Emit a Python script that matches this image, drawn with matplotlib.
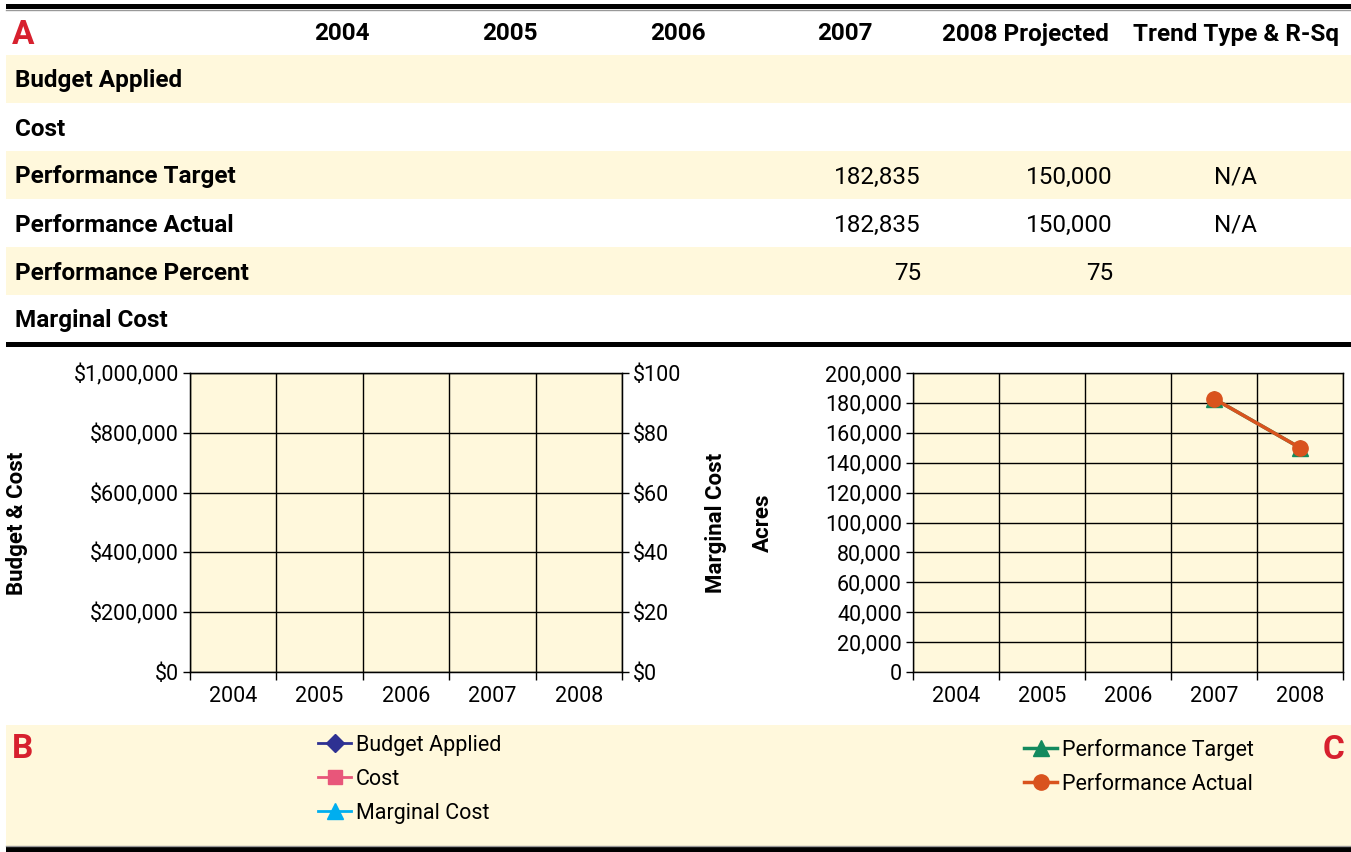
import numpy as np
import matplotlib
matplotlib.use("Agg")
import matplotlib.pyplot as plt
from matplotlib.patches import Rectangle
from matplotlib.ticker import FuncFormatter, MultipleLocator, FixedLocator

plt.rcParams['font.family'] = ['Roboto', 'DejaVu Sans']

# table data
col_heads = ['2004', '2005', '2006', '2007', '2008 Projected', 'Trend Type & R-Sq']
row_heads = ['Budget Applied', 'Cost', 'Performance Target', 'Performance Actual',
             'Performance Percent', 'Marginal Cost']
row_2007 = ['', '', '182,835', '182,835', '75', '']
row_2008 = ['', '', '150,000', '150,000', '75', '']
row_trend = ['', '', 'N/A', 'N/A', '', '']

# chart data
years = ['2004', '2005', '2006', '2007', '2008']
budget_applied = [np.nan, np.nan, np.nan, np.nan, np.nan]
cost = [np.nan, np.nan, np.nan, np.nan, np.nan]
marginal_cost = [np.nan, np.nan, np.nan, np.nan, np.nan]
perf_target = [np.nan, np.nan, np.nan, 182835, 150000]
perf_actual = [np.nan, np.nan, np.nan, 182835, 150000]

W, H = 1351, 852
CREAM = '#fff8dc'
RED = '#d7202e'
TXT = 17.5   # table text size
TICK = 15.5  # chart tick label size

fig = plt.figure(figsize=(W / 100, H / 100), dpi=100)
fig.patch.set_facecolor('white')

# background layer in pixel coordinates
bg = fig.add_axes([0, 0, 1, 1], zorder=0)
bg.set_xlim(0, W)
bg.set_ylim(H, 0)
bg.axis('off')


def px_axes(x0, y0, x1, y1, **kw):
    return fig.add_axes([x0 / W, 1 - y1 / H, (x1 - x0) / W, (y1 - y0) / H], **kw)


# horizontal rules
bg.add_patch(Rectangle((6, 4), W - 6, 5, color='black', lw=0))
bg.plot([6, W], [9.5, 9.5], color='#999999', lw=1)
bg.add_patch(Rectangle((6, 342), W - 6, 5, color='black', lw=0))
bg.add_patch(Rectangle((6, 847), W - 6, 6, color='black', lw=0))
bg.plot([6, W], [846, 846], color='#999999', lw=1)

# table section
bg.text(12, 35, 'A', color=RED, fontsize=24, fontweight='bold', va='center', ha='left')
col_x = [342, 510, 678, 845, 1025, 1236]
for x, t in zip(col_x, col_heads):
    bg.text(x, 34, t, fontsize=TXT, fontweight='bold', va='center', ha='center')

row_top = 55
row_h = 48
for i, name in enumerate(row_heads):
    y0 = row_top + i * row_h
    if i % 2 == 0:
        bg.add_patch(Rectangle((6, y0), W - 6, row_h, color=CREAM, lw=0))
    yc = y0 + row_h / 2 + 2
    bg.text(15, yc, name, fontsize=TXT, fontweight='bold', va='center', ha='left')
    bg.text(921, yc, row_2007[i], fontsize=TXT, va='center', ha='right')
    bg.text(1113, yc, row_2008[i], fontsize=TXT, va='center', ha='right')
    bg.text(1236, yc, row_trend[i], fontsize=TXT, va='center', ha='center')

# legend band
bg.add_patch(Rectangle((6, 725), W - 6, 121, color=CREAM, lw=0))
bg.text(12, 749, 'B', color=RED, fontsize=24, fontweight='bold', va='center', ha='left')
bg.text(1344, 750, 'C', color=RED, fontsize=24, fontweight='bold', va='center', ha='right')

# axis titles
bg.text(17, 523, 'Budget & Cost', rotation=90, fontsize=16, fontweight='bold',
        va='center', ha='center')
bg.text(716, 523, 'Marginal Cost', rotation=90, fontsize=16, fontweight='bold',
        va='center', ha='center')
bg.text(763, 523, 'Acres', rotation=90, fontsize=16, fontweight='bold',
        va='center', ha='center')

x = np.arange(len(years))


def style_axes(ax):
    ax.set_facecolor(CREAM)
    ax.set_xlim(-0.5, len(years) - 0.5)
    ax.xaxis.set_major_locator(FixedLocator(x))
    ax.set_xticklabels(years, fontsize=TICK)
    ax.xaxis.set_minor_locator(FixedLocator(np.arange(-0.5, len(years), 1.0)))
    ax.tick_params(axis='x', which='major', length=0, pad=10)
    ax.tick_params(axis='x', which='minor', length=6, width=1, color='black')
    ax.tick_params(axis='y', length=5, width=1, labelsize=TICK, pad=3)
    ax.grid(True, axis='y', which='major', color='black', lw=1)
    ax.grid(True, axis='x', which='minor', color='black', lw=1)
    ax.set_axisbelow(True)
    for s in ax.spines.values():
        s.set_color('black')
        s.set_linewidth(1)


# left chart: budget & cost, marginal cost on a second axis
ax1 = px_axes(190, 373, 622, 672, zorder=2)
style_axes(ax1)
ax1.set_ylim(0, 1000000)
ax1.yaxis.set_major_locator(MultipleLocator(200000))
ax1.yaxis.set_major_formatter(FuncFormatter(lambda v, p: '${:,.0f}'.format(v)))
h1, = ax1.plot(x, budget_applied, color='#2e3192', marker='D', ms=9, lw=2,
               label='Budget Applied')
h2, = ax1.plot(x, cost, color='#e8567a', marker='s', ms=10, lw=2, label='Cost')
ax1b = ax1.twinx()
ax1b.set_ylim(0, 100)
ax1b.yaxis.set_major_locator(MultipleLocator(20))
ax1b.yaxis.set_major_formatter(FuncFormatter(lambda v, p: '${:,.0f}'.format(v)))
ax1b.tick_params(axis='y', length=5, width=1, labelsize=TICK, pad=3)
h3, = ax1b.plot(x, marginal_cost, color='#00aeef', marker='^', ms=11, lw=2,
                label='Marginal Cost')

# right chart: performance acres
ax2 = px_axes(913, 373, 1343, 672, zorder=2)
style_axes(ax2)
ax2.set_ylim(0, 200000)
ax2.yaxis.set_major_locator(MultipleLocator(20000))
ax2.yaxis.set_major_formatter(FuncFormatter(lambda v, p: '{:,.0f}'.format(v)))
g1, = ax2.plot(x, perf_target, color='#138a5e', marker='^', ms=12, lw=2.5,
               label='Performance Target', clip_on=False)
g2, = ax2.plot(x, perf_actual, color='#d9531e', marker='o', ms=11, lw=2.5,
               label='Performance Actual', clip_on=False)

# legends
leg_kw = dict(loc='upper left', frameon=False, fontsize=15.5, handlelength=1.55,
              handletextpad=0.2, labelspacing=0.6, borderaxespad=0, borderpad=0)
fig.legend(handles=[h1, h2, h3], labels=[h.get_label() for h in (h1, h2, h3)],
           bbox_to_anchor=(318 / W, 1 - 735 / H), **leg_kw)
fig.legend(handles=[g1, g2], labels=[g.get_label() for g in (g1, g2)],
           bbox_to_anchor=(1024 / W, 1 - 739 / H), **leg_kw)

fig.savefig('out.png', dpi=100, facecolor='white')
